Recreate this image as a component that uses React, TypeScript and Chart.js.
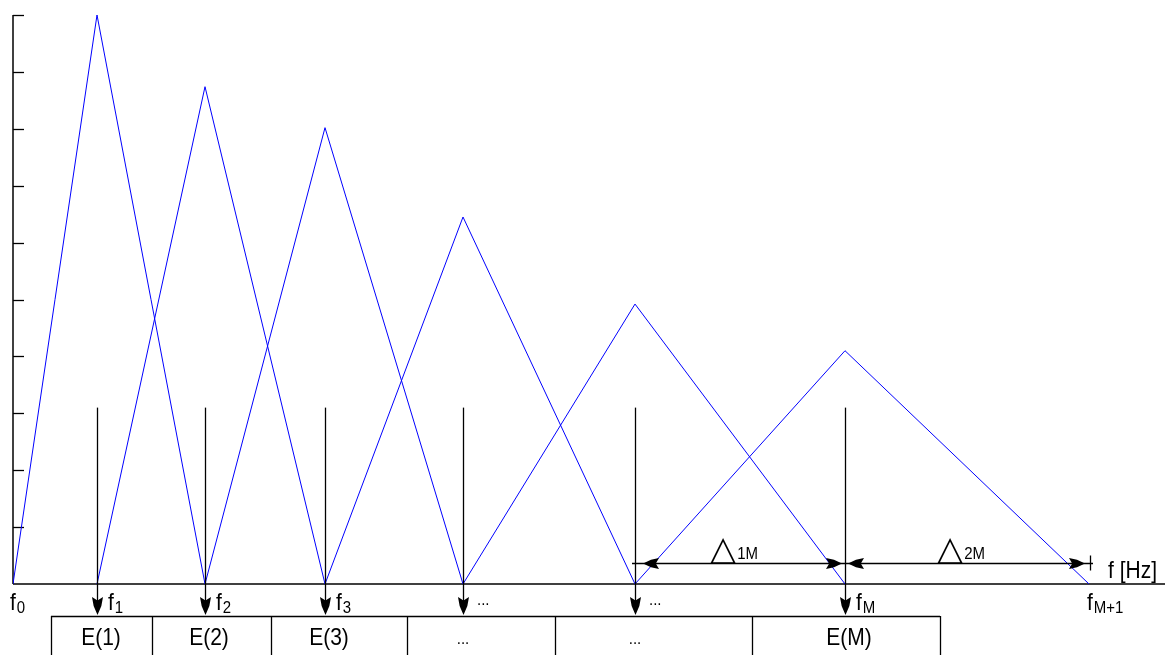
import { useEffect, useRef } from "react";
import { Chart, registerables } from "chart.js";

Chart.register(...registerables);

// Filter-bank edge frequencies f0 .. fM+1 (linear frequency units)
const bandEdges = [0, 84, 192, 312, 450, 622, 832, 1076];
// Peak gain of each triangular filter (filter k spans edges k..k+2)
const peakGains = [10, 8.74, 8.02, 6.45, 4.92, 4.1];
// Labels under the frequency axis at each edge
const edgeMain = ["f", "f", "f", "f", "...", "...", "f", "f"];
const edgeSub = ["0", "1", "2", "3", "", "", "M", "M+1"];
// Energy outputs, one per filter centre
const energyLabels = ["E(1)", "E(2)", "E(3)", "...", "...", "E(M)"];
// Borders of the energy boxes
const boxEdges = [38, 139, 258, 394, 542, 739, 927];
// Vertical axis ticks
const yTicks = [1, 2, 3, 4, 5, 6, 7, 8, 9, 10];
// Bandwidth markers: [from edge index, to edge index, subscript]
const deltaFrom = [5, 6];
const deltaTo = [6, 7];
const deltaSub = ["1M", "2M"];

const X_MAX = 1152;
const Y_MAX = 10;
const ARROW_TOP = 3.1;
const DELTA_LEVEL = 0.37;

const SANS = '"Liberation Sans", Arial, sans-serif';
const V_STRETCH = 1.15;

function drawText(
  ctx: CanvasRenderingContext2D,
  str: string,
  x: number,
  y: number,
  size: number,
  align: CanvasTextAlign = "left",
  family: string = SANS
) {
  ctx.save();
  ctx.font = `${size}px ${family}`;
  ctx.textAlign = align;
  ctx.textBaseline = "alphabetic";
  ctx.translate(x, y);
  ctx.scale(1, V_STRETCH);
  ctx.fillText(str, 0, 0);
  ctx.restore();
}

function textWidth(ctx: CanvasRenderingContext2D, str: string, size: number, family: string = SANS) {
  ctx.save();
  ctx.font = `${size}px ${family}`;
  const w = ctx.measureText(str).width;
  ctx.restore();
  return w;
}

// Chunky notched arrowhead with its tip at (x, y), pointing along angle (radians)
function arrowHead(ctx: CanvasRenderingContext2D, x: number, y: number, angle: number, len = 16, half = 5) {
  ctx.save();
  ctx.translate(x, y);
  ctx.rotate(angle);
  ctx.beginPath();
  ctx.moveTo(0, 0);
  ctx.lineTo(-len * 0.5, half * 0.7);
  ctx.lineTo(-len, half);
  ctx.lineTo(-len * 0.8, 0);
  ctx.lineTo(-len, -half);
  ctx.lineTo(-len * 0.5, -half * 0.7);
  ctx.closePath();
  ctx.fill();
  ctx.restore();
}

const diagramPlugin = {
  id: "filterBankDiagram",
  beforeDatasetsDraw(chart: any) {
    const ctx: CanvasRenderingContext2D = chart.ctx;
    const xs = chart.scales.x;
    const ys = chart.scales.y;
    const y0 = ys.getPixelForValue(0);
    const x0 = xs.getPixelForValue(0);
    ctx.save();
    ctx.strokeStyle = "#000";
    ctx.fillStyle = "#000";
    // vertical axis
    ctx.lineWidth = 1.5;
    ctx.beginPath();
    ctx.moveTo(x0, ys.getPixelForValue(Y_MAX));
    ctx.lineTo(x0, y0);
    ctx.stroke();
    ctx.lineWidth = 1.3;
    for (const t of yTicks) {
      const py = Math.round(ys.getPixelForValue(t)) + 0.5;
      ctx.beginPath();
      ctx.moveTo(x0, py);
      ctx.lineTo(x0 + 11, py);
      ctx.stroke();
    }
    // frequency axis
    ctx.lineWidth = 1.5;
    ctx.beginPath();
    ctx.moveTo(x0, y0);
    ctx.lineTo(xs.getPixelForValue(X_MAX), y0);
    ctx.stroke();
    ctx.restore();
  },
  afterDatasetsDraw(chart: any) {
    const ctx: CanvasRenderingContext2D = chart.ctx;
    const xs = chart.scales.x;
    const ys = chart.scales.y;
    const y0 = ys.getPixelForValue(0);
    const boxTop = y0 + 32;
    ctx.save();
    ctx.strokeStyle = "#000";
    ctx.fillStyle = "#000";

    // arrows from each filter centre down to its energy box
    ctx.lineWidth = 1.3;
    for (let k = 1; k <= peakGains.length; k++) {
      const px = Math.round(xs.getPixelForValue(bandEdges[k])) + 0.5;
      ctx.beginPath();
      ctx.moveTo(px, ys.getPixelForValue(ARROW_TOP));
      ctx.lineTo(px, boxTop - 4);
      ctx.stroke();
      arrowHead(ctx, px, boxTop - 1, Math.PI / 2, 18, 5.5);
    }

    // energy boxes
    ctx.lineWidth = 1.3;
    const bx0 = xs.getPixelForValue(boxEdges[0]);
    const bx1 = xs.getPixelForValue(boxEdges[boxEdges.length - 1]);
    ctx.beginPath();
    ctx.moveTo(bx0, boxTop + 0.5);
    ctx.lineTo(bx1, boxTop + 0.5);
    for (const e of boxEdges) {
      const px = Math.round(xs.getPixelForValue(e)) + 0.5;
      ctx.moveTo(px, boxTop);
      ctx.lineTo(px, chart.height + 2);
    }
    ctx.stroke();

    energyLabels.forEach((lab, i) => {
      const px = xs.getPixelForValue(bandEdges[i + 1]);
      if (lab === "...") {
        drawText(ctx, lab, px, boxTop + 28, 15, "center");
      } else {
        drawText(ctx, lab, px + 4, boxTop + 29, 21, "center");
      }
    });

    // edge frequency labels
    edgeMain.forEach((m, i) => {
      const px = xs.getPixelForValue(bandEdges[i]);
      if (m === "...") {
        drawText(ctx, m, px + 14, y0 + 21, 15);
        return;
      }
      let lx = px + 11;
      if (i === 0) lx = px - 3;
      if (i === edgeMain.length - 1) lx = px - 2;
      drawText(ctx, m, lx, y0 + 26, 21);
      const w = textWidth(ctx, m, 21);
      drawText(ctx, edgeSub[i], lx + w + 1, y0 + 29, 15);
    });

    // bandwidth markers
    const dy = Math.round(ys.getPixelForValue(DELTA_LEVEL)) + 0.5;
    const firstX = xs.getPixelForValue(bandEdges[deltaFrom[0]]);
    const lastX = xs.getPixelForValue(bandEdges[deltaTo[deltaTo.length - 1]]);
    ctx.lineWidth = 1.3;
    ctx.beginPath();
    ctx.moveTo(firstX - 3, dy);
    ctx.lineTo(lastX + 4, dy);
    ctx.moveTo(lastX + 1.5, dy - 8);
    ctx.lineTo(lastX + 1.5, dy + 7);
    ctx.stroke();
    const triFont = '"DejaVu Sans", sans-serif';
    deltaFrom.forEach((fi, j) => {
      const a = xs.getPixelForValue(bandEdges[fi]);
      const b = xs.getPixelForValue(bandEdges[deltaTo[j]]);
      arrowHead(ctx, a + (j === 0 ? 8 : 3), dy, Math.PI, 16, 5.5);
      arrowHead(ctx, b - (j === 0 ? 3 : 4), dy, 0, 16, 5.5);
      const triW = textWidth(ctx, "\u25B3", 34, triFont);
      const subW = textWidth(ctx, deltaSub[j], 15);
      const total = triW + 1 + subW;
      const start = (a + b) / 2 - 6 - total / 2;
      ctx.save();
      ctx.font = `34px ${triFont}`;
      ctx.textBaseline = "alphabetic";
      ctx.fillText("\u25B3", start, dy - 4);
      ctx.restore();
      drawText(ctx, deltaSub[j], start + triW + 1, dy - 5, 15);
    });

    // axis unit
    drawText(ctx, "f [Hz]", lastX + 19, dy + 14, 21);
    ctx.restore();
  },
};

export default function App() {
  const canvasRef = useRef<HTMLCanvasElement | null>(null);

  useEffect(() => {
    if (!canvasRef.current) return;
    const lineColor = "#0000ff";
    const datasets = peakGains.map((g, k) => ({
      label: `H${k + 1}`,
      data: [
        { x: bandEdges[k], y: 0 },
        { x: bandEdges[k + 1], y: g },
        { x: bandEdges[k + 2], y: 0 },
      ],
      borderColor: lineColor,
      borderWidth: 1,
      pointRadius: 0,
      tension: 0,
      fill: false,
    }));
    const chart = new Chart(canvasRef.current, {
      type: "line",
      data: { datasets },
      options: {
        animation: false,
        responsive: false,
        maintainAspectRatio: false,
        layout: { padding: { left: 13, top: 15, right: 0, bottom: 71 } },
        plugins: { legend: { display: false }, tooltip: { enabled: false } },
        scales: {
          x: { type: "linear", min: 0, max: X_MAX, display: false },
          y: { type: "linear", min: 0, max: Y_MAX, display: false },
        },
      },
      plugins: [diagramPlugin],
    });
    return () => chart.destroy();
  }, []);

  return (
    <div style={{ position: "fixed", left: 0, top: 0, width: 1165, height: 655, background: "#fff" }}>
      <canvas ref={canvasRef} width={1165} height={655} />
    </div>
  );
}
